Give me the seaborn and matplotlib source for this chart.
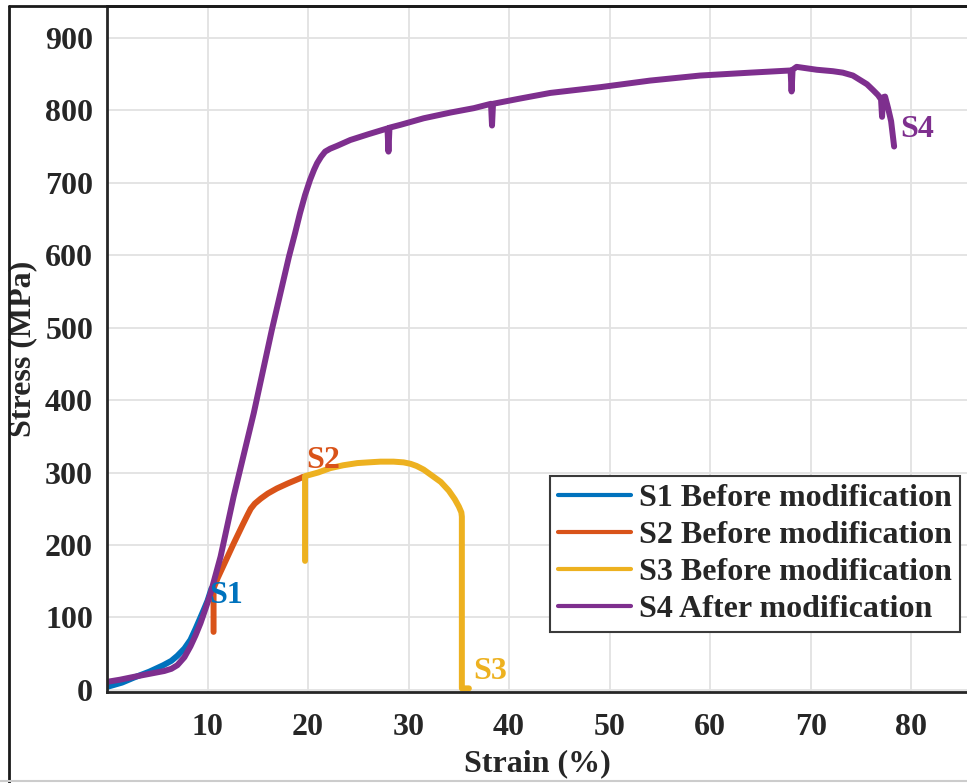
import numpy as np
import pandas as pd
import seaborn as sns
import matplotlib
matplotlib.use("Agg")
import matplotlib.pyplot as plt
from matplotlib.lines import Line2D

# ---------------- data ----------------
s1_x = [0.0, 1.5, 2.7, 4.2, 5.6, 6.4, 7.0, 7.7, 8.3, 8.8, 9.3, 9.7, 10.0, 10.4]
s1_y = [4, 10, 17, 25, 34, 40, 47, 57, 69, 84, 100, 113, 123, 140]

s2_x = [10.6, 10.6, 11.0, 11.8, 12.6, 13.5, 14.0, 14.3, 14.7, 15.3, 16.0,
        16.9, 18.0, 19.2, 19.5]
s2_y = [80, 140, 154, 178, 202, 228, 242, 250, 257, 264, 271,
        278, 285, 292, 294]

s3_x = [19.7, 19.7, 21.0, 22.2, 23.5, 24.9, 26.0, 27.2, 28.5, 29.5, 30.2,
        30.8, 31.5, 32.3, 33.2, 34.0, 34.6, 35.0, 35.25, 35.3, 35.3, 36.0]
s3_y = [178, 295, 300, 306, 310, 313, 314, 315, 315, 314, 312,
        309, 304, 296, 287, 275, 263, 253, 245, 239, 2, 2]

s4_x = [0.0, 1.3, 2.7, 4.2, 5.7, 6.4, 7.0, 7.7, 8.3, 8.8, 9.3, 9.8, 10.3,
        11.3, 12.6, 14.6, 16.4, 18.1, 18.7, 19.2, 19.7, 20.2, 20.6, 20.9,
        21.3, 21.7, 22.2, 22.9, 24.2, 26.0, 27.9, 28.0, 28.1, 29.2,
        31.5, 34.2, 36.5, 38.2, 38.3, 38.4, 41.0, 44.1, 49.1, 54.0, 59.0,
        64.0, 68.0, 68.1, 68.2, 68.6, 70.6, 72.2, 73.2, 74.2, 74.9, 75.6,
        76.2, 76.7, 77.0, 77.1, 77.2, 77.4, 77.7, 78.0, 78.3]
s4_y = [11, 14, 18, 22, 26, 29, 34, 45, 60, 75, 92, 112, 133,
        184, 267, 382, 497, 598, 630, 658, 683, 704, 718, 727,
        736, 743, 747, 751, 759, 767, 775, 743, 776, 780,
        789, 797, 803, 809, 779, 809, 816, 824, 832, 841, 848,
        852, 855, 826, 856, 860, 856, 854, 852, 848, 842, 836,
        828, 821, 815, 791, 818, 819, 803, 785, 750]

series_names = ["S1 Before modification", "S2 Before modification",
                "S3 Before modification", "S4 After modification"]
series_colors = ["#0072BD", "#D95319", "#EDB120", "#7E2F8E"]
short_labels = ["S1", "S2", "S3", "S4"]
label_pos_x = [10.2, 19.8, 36.4, 78.9]
label_pos_y = [130, 316, 25, 773]

x_ticks = [10, 20, 30, 40, 50, 60, 70, 80]
y_ticks = [0, 100, 200, 300, 400, 500, 600, 700, 800, 900]

# ---------------- build table ----------------
frames = []
for name, xs, ys in zip(series_names, [s1_x, s2_x, s3_x, s4_x],
                        [s1_y, s2_y, s3_y, s4_y]):
    frames.append(pd.DataFrame({"Strain": xs, "Stress": ys, "Series": name}))
df = pd.concat(frames, ignore_index=True)

# ---------------- plot ----------------
sns.set_style("white")
plt.rcParams["font.family"] = ["Liberation Serif", "DejaVu Serif"]
plt.rcParams["font.weight"] = "bold"
FS = 23

fig = plt.figure(figsize=(9.67, 7.83), dpi=100)
ax = fig.add_axes([107 / 967, 91 / 783, 860 / 967, 686 / 783])

palette = dict(zip(series_names, series_colors))
sns.lineplot(data=df, x="Strain", y="Stress", hue="Series", palette=palette,
             hue_order=series_names, sort=False, estimator=None,
             units="Series", lw=4.3, ax=ax, legend=False,
             solid_capstyle="round", solid_joinstyle="round")

ax.set_xlim(0, 85.55)
ax.set_ylim(-3, 944)
ax.set_xticks(x_ticks)
ax.set_yticks(y_ticks)
ax.grid(True, color="#e2e2e2", lw=1.3)
ax.set_axisbelow(True)

for sp in ["left", "bottom", "top"]:
    ax.spines[sp].set_visible(True)
    ax.spines[sp].set_color("#262626")
    ax.spines[sp].set_linewidth(2)
ax.spines["right"].set_visible(False)

ax.tick_params(axis="both", direction="in", length=7.5, width=1.6,
               color="#262626", labelsize=FS, labelcolor="#262626")
ax.tick_params(axis="x", pad=15)
ax.tick_params(axis="y", pad=10)
for lab in ax.get_xticklabels() + ax.get_yticklabels():
    lab.set_fontweight("bold")

ax.set_xlabel("Strain (%)", fontsize=FS, fontweight="bold", color="#262626",
              labelpad=5)
ax.set_ylabel("Stress (MPa)", fontsize=FS, fontweight="bold", color="#262626",
              labelpad=6)

for t, c, lx, ly in zip(short_labels, series_colors, label_pos_x, label_pos_y):
    ax.text(lx, ly, t, color=c, fontsize=FS, fontweight="bold",
            ha="left", va="center")

handles = [Line2D([0], [0], color=c, lw=3) for c in series_colors]
leg = ax.legend(handles, series_names, loc="lower right",
                bbox_to_anchor=(0.992, 0.0875),
                prop={"weight": "bold", "size": FS},
                frameon=True, fancybox=False, framealpha=1,
                edgecolor="#3a3a3a", handlelength=2.3, handletextpad=0.25,
                labelspacing=0.24, borderpad=0.25, borderaxespad=0)
leg.get_frame().set_linewidth(1.5)

# figure border lines (cropped frame)
fig.add_artist(Line2D([8.5 / 967, 8.5 / 967], [0, 777 / 783],
                      transform=fig.transFigure, color="#1a1a1a", lw=2))
fig.add_artist(Line2D([8.5 / 967, 1], [777 / 783, 777 / 783],
                      transform=fig.transFigure, color="#1a1a1a", lw=2))
fig.add_artist(Line2D([0, 1], [2 / 783, 2 / 783],
                      transform=fig.transFigure, color="#cccccc", lw=1.5))

fig.savefig("out.png", dpi=100)
